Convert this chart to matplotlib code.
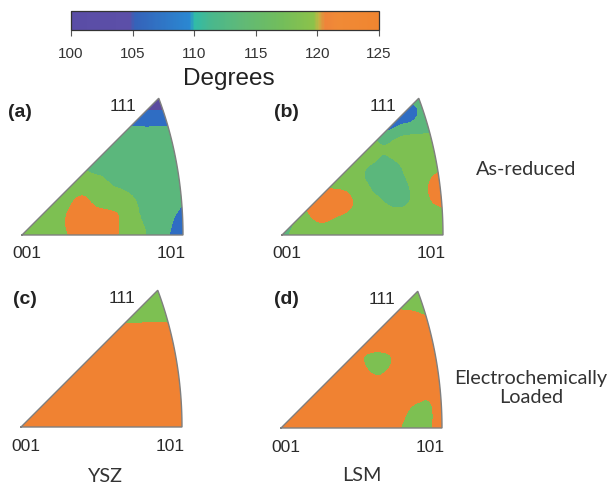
import numpy as np
import matplotlib
matplotlib.use("Agg")
import matplotlib.pyplot as plt
from matplotlib.colors import LinearSegmentedColormap, Normalize
from matplotlib.patches import PathPatch
from matplotlib.path import Path
import matplotlib.tri as mtri
import matplotlib.colorbar as mcolorbar

W, H = 611, 486

# ---------------- data ----------------
CBAR_TICKS = [100, 105, 110, 115, 120, 125]
CBAR_LABEL = "Degrees"
BAND_LEVELS = [50, 105, 110, 115, 120, 150]
BAND_COLORS = ["#5b4b9f", "#2f6dc3", "#5bb77c", "#7dc052", "#f08232"]

PANEL_LETTERS = ["(a)", "(b)", "(c)", "(d)"]
CORNER_LABELS = ["001", "101", "111"]
ROW_LABELS = ["As-reduced", "Electrochemically\nLoaded"]
COL_LABELS = ["YSZ", "LSM"]

# angle values (degrees) on a regular grid over the triangle, rows from 001-101 edge (bottom) upward
grid_a = [
    [117.0, 118.0, 118.0, 120.4, 123.0, 123.0, 119.8, 116.5, 114.3, 110.5, 107.0],
    [117.5, 118.0, 118.5, 120.8, 123.0, 122.8, 120.0, 116.0, 114.0, 111.5, 108.0],
    [118.0, 118.0, 118.5, 119.5, 120.5, 117.5, 118.0, 115.2, 113.0, 112.0, 110.5],
    [118.0, 118.0, 118.0, 118.0, 117.5, 116.0, 114.0, 113.0, 112.5, 112.0, 111.5],
    [115.5, 115.5, 115.0, 115.0, 114.5, 113.5, 113.0, 112.5, 112.5, 112.5, 112.5],
    [113.0, 113.0, 113.0, 113.0, 113.0, 113.0, 113.0, 113.0, 113.0, 113.0, 113.0],
    [111.0, 111.0, 111.0, 111.0, 111.0, 111.0, 111.0, 111.0, 111.0, 111.0, 111.0],
    [107.0, 107.0, 107.0, 107.0, 107.0, 107.0, 107.0, 107.0, 107.0, 107.0, 107.0],
    [99.0, 99.0, 99.0, 99.0, 99.0, 99.0, 99.0, 99.0, 99.0, 99.0, 99.0],
]
grid_b = [
    [114.0, 116.5, 117.5, 117.5, 117.5, 117.5, 117.5, 117.5, 117.5, 117.5, 117.5],
    [115.5, 116.5, 120.3, 120.5, 118.5, 117.5, 117.5, 117.5, 117.5, 117.5, 117.8],
    [118.0, 119.0, 121.5, 123.0, 121.5, 117.5, 115.5, 113.5, 115.2, 119.0, 121.5],
    [118.0, 118.5, 119.0, 118.5, 118.0, 116.0, 113.5, 113.5, 115.5, 119.5, 122.5],
    [117.5, 117.5, 117.5, 117.5, 117.5, 116.0, 113.5, 114.0, 116.5, 118.5, 119.5],
    [117.5, 117.5, 117.5, 117.5, 117.5, 120.5, 116.0, 116.5, 117.5, 118.0, 118.0],
    [117.5, 117.5, 117.5, 117.5, 117.5, 117.0, 111.0, 112.0, 114.0, 114.8, 116.0],
    [112.0, 112.0, 112.0, 112.0, 112.0, 112.0, 107.0, 107.0, 108.5, 113.0, 115.0],
    [112.0, 112.0, 112.0, 112.0, 112.0, 112.0, 112.0, 112.0, 112.0, 112.0, 112.0],
]
grid_c = [
    [123.0] * 11,
    [123.0] * 11,
    [123.0] * 11,
    [123.0] * 11,
    [123.0] * 11,
    [123.0] * 11,
    [120.3, 120.3, 120.3, 120.3, 120.3, 120.3, 120.4, 120.2, 120.4, 120.3, 120.3],
    [118.0] * 11,
    [117.5] * 11,
]
grid_d = [
    [123.0, 123.0, 123.0, 123.0, 123.0, 123.0, 123.0, 121.5, 118.0, 118.5, 123.0],
    [123.0, 123.0, 123.0, 123.0, 123.0, 123.0, 123.0, 123.0, 119.5, 118.5, 123.0],
    [123.0, 123.0, 123.0, 123.0, 123.0, 123.0, 123.0, 123.0, 123.0, 121.0, 123.0],
    [123.0, 123.0, 123.0, 123.0, 123.0, 123.0, 120.3, 123.0, 123.0, 123.0, 123.0],
    [123.0, 123.0, 123.0, 123.0, 123.0, 120.5, 118.0, 120.5, 123.0, 123.0, 123.0],
    [123.0, 123.0, 123.0, 123.0, 123.0, 123.0, 123.0, 123.0, 123.0, 123.0, 123.0],
    [123.0, 123.0, 123.0, 123.0, 123.0, 123.0, 123.0, 123.0, 123.0, 122.0, 121.5],
    [123.0, 123.0, 123.0, 123.0, 123.0, 123.0, 123.0, 120.5, 119.5, 118.5, 118.0],
    [117.5, 117.5, 117.5, 117.5, 117.5, 117.5, 117.5, 117.5, 117.5, 117.5, 117.5],
]
GRIDS = [grid_a, grid_b, grid_c, grid_d]

# ---------------- layout (pixels, top-left origin) ----------------
ORIGINS = [(22, 235), (282, 235), (21, 427), (281, 428)]   # 001 corner of each triangle
LETTER_POS = [(20, 112), (286, 112), (25, 300), (286, 300)]
PX_PER_UNIT = 161 / 0.7654
NUM_FONT = "Liberation Sans"
LBL_FONT = "Lato"

fig = plt.figure(figsize=(W / 100, H / 100), dpi=100)
fig.patch.set_facecolor("white")


def fx(px):
    return px / W


def fy(py):
    return 1 - py / H


# colourbar
cb_cmap = LinearSegmentedColormap.from_list(
    "ipf",
    [
        (0.000, "#5a4da6"), (0.190, "#5c4fa8"), (0.205, "#3562b9"),
        (0.385, "#2a88d2"), (0.400, "#30bba8"), (0.450, "#48b88e"),
        (0.550, "#5fb978"), (0.680, "#72bd5c"), (0.790, "#8cc24a"),
        (0.805, "#c4b444"), (0.825, "#ef843a"), (0.870, "#f08a36"),
        (1.000, "#f08530"),
    ],
)
cax = fig.add_axes([fx(71), fy(30), fx(379) - fx(71), (30 - 11) / H])
cb = mcolorbar.ColorbarBase(cax, cmap=cb_cmap, norm=Normalize(100, 125),
                            orientation="horizontal", ticks=CBAR_TICKS)
cb.outline.set_linewidth(0.9)
cb.outline.set_edgecolor("#333333")
cax.tick_params(axis="x", length=4, width=0.8, color="#555555", pad=8,
                labelsize=11, labelcolor="#333333")
for t in cax.get_xticklabels():
    t.set_fontfamily(NUM_FONT)
fig.text(fx(229), fy(79), CBAR_LABEL, ha="center", va="center",
         fontsize=17.5, family=NUM_FONT, color="#222222")

# triangle boundary (equal-area projection of the standard cubic triangle)
phi = np.linspace(np.pi / 4, 0, 80)
theta = np.arctan(1 / np.cos(phi))
R = 2 * np.sin(theta / 2)
arc_x, arc_y = R * np.cos(phi), R * np.sin(phi)
apex = arc_x[0]
bx = np.concatenate([[0.0], arc_x, [0.0]])
by = np.concatenate([[0.0], arc_y, [0.0]])
x101 = arc_x[-1]

xs = np.linspace(0, x101, 11)
ys = np.linspace(0, apex, 9)
GX, GY = np.meshgrid(xs, ys)
tri = mtri.Triangulation(GX.ravel(), GY.ravel())
refiner = mtri.UniformTriRefiner(tri)

xlim = (-0.03, 0.80)
ylim = (-0.03, 0.68)
for k, grid in enumerate(GRIDS):
    ox, oy = ORIGINS[k]
    left = ox + xlim[0] * PX_PER_UNIT
    bottom = (H - oy) + ylim[0] * PX_PER_UNIT
    ax = fig.add_axes([left / W, bottom / H,
                       (xlim[1] - xlim[0]) * PX_PER_UNIT / W,
                       (ylim[1] - ylim[0]) * PX_PER_UNIT / H])
    ax.set_xlim(xlim)
    ax.set_ylim(ylim)
    ax.axis("off")
    z = np.asarray(grid, dtype=float).ravel()
    tri_r, z_r = refiner.refine_field(z, subdiv=3)
    cs = ax.tricontourf(tri_r, z_r, levels=BAND_LEVELS, colors=BAND_COLORS)
    path = Path(np.column_stack([bx, by]))
    clip = PathPatch(path, transform=ax.transData, facecolor="none", edgecolor="none")
    ax.add_patch(clip)
    cs.set_clip_path(clip)
    ax.plot(bx, by, color="#7f7f7f", lw=1.0, solid_joinstyle="miter")

    apex_px = (ox + apex * PX_PER_UNIT, oy - apex * PX_PER_UNIT)
    x101_px = ox + x101 * PX_PER_UNIT
    lx, ly = LETTER_POS[k]
    fig.text(fx(lx), fy(ly), PANEL_LETTERS[k], ha="center", va="center",
             fontsize=14, fontweight="bold", family=NUM_FONT, color="#222222")
    fig.text(fx(ox + 5), fy(oy + 19), CORNER_LABELS[0], ha="center", va="center",
             fontsize=12.5, family=NUM_FONT, color="#2a2a2a")
    fig.text(fx(x101_px - 12), fy(oy + 19), CORNER_LABELS[1], ha="center", va="center",
             fontsize=12.5, family=NUM_FONT, color="#2a2a2a")
    fig.text(fx(apex_px[0] - 36), fy(apex_px[1] + 8), CORNER_LABELS[2], ha="center",
             va="center", fontsize=12.5, family=NUM_FONT, color="#2a2a2a")

fig.text(fx(526), fy(169), ROW_LABELS[0], ha="center", va="center",
         fontsize=14.3, family=LBL_FONT, color="#333333")
fig.text(fx(531), fy(388), ROW_LABELS[1], ha="center", va="center",
         fontsize=14.3, family=LBL_FONT, color="#333333", linespacing=1.2,
         multialignment="center")
fig.text(fx(105), fy(476), COL_LABELS[0], ha="center", va="center",
         fontsize=14.3, family=LBL_FONT, color="#333333")
fig.text(fx(362), fy(475), COL_LABELS[1], ha="center", va="center",
         fontsize=14.3, family=LBL_FONT, color="#333333")

fig.savefig("out.png", dpi=100, facecolor="white")
